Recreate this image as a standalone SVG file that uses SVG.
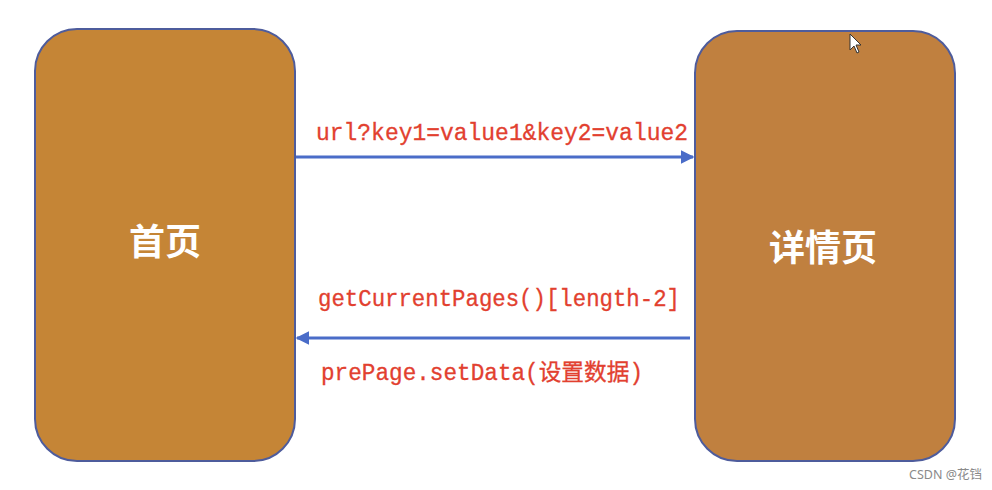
<svg xmlns="http://www.w3.org/2000/svg" width="992" height="490" viewBox="0 0 992 490">
<style>
.node{stroke:#4E5C9C;stroke-width:2}
.lbl{font-family:"Noto Sans CJK SC","Noto Sans",sans-serif;font-weight:bold;font-size:36px;fill:#ffffff;text-anchor:middle}
.code{font-family:"Liberation Mono","DejaVu Sans Mono","Noto Sans CJK SC",monospace;font-size:23px;fill:#E2402F;stroke:#E2402F;stroke-width:0.3}
.conn{stroke:#4A6CC8;stroke-width:3;fill:none}
</style>
<defs>
<marker id="arr" viewBox="0 0 10 10" refX="9" refY="5" markerWidth="4.5" markerHeight="4.5" orient="auto" markerUnits="strokeWidth">
<path d="M0,0 L10,5 L0,10 Z" fill="#4A6CC8"/>
</marker>
</defs>
<rect width="992" height="490" fill="#ffffff"/>
<g id="home">
<rect class="node" x="35" y="29" width="260" height="432" rx="42" ry="42" fill="#C58536"/>
<text class="lbl" x="165" y="255">首页</text>
</g>
<g id="detail">
<rect class="node" x="695" y="31" width="260" height="430" rx="42" ry="42" fill="#C0803F"/>
<text class="lbl" x="823" y="261">详情页</text>
</g>
<g id="connectors">
<line class="conn" x1="296" y1="157" x2="693" y2="157" marker-end="url(#arr)"/>
<line class="conn" x1="690" y1="338" x2="297" y2="338" marker-end="url(#arr)"/>
<text class="code" x="316" y="140" textLength="372" lengthAdjust="spacingAndGlyphs">url?key1=value1&amp;key2=value2</text>
<text class="code" x="318" y="306" textLength="362" lengthAdjust="spacingAndGlyphs">getCurrentPages()[length-2]</text>
<text class="code" x="321" y="380" textLength="322" lengthAdjust="spacingAndGlyphs">prePage.setData(设置数据)</text>
</g>
<path d="M850,34 L850,50 L854,46 L857,53 L859,52 L856,45 L861,45 Z" fill="#ffffff" stroke="#333333" stroke-width="1"/>
<text x="909" y="479" font-family="'Noto Sans','Noto Sans CJK SC',sans-serif" font-size="12.5" fill="#8a8a8a">CSDN @花铛</text>
</svg>
